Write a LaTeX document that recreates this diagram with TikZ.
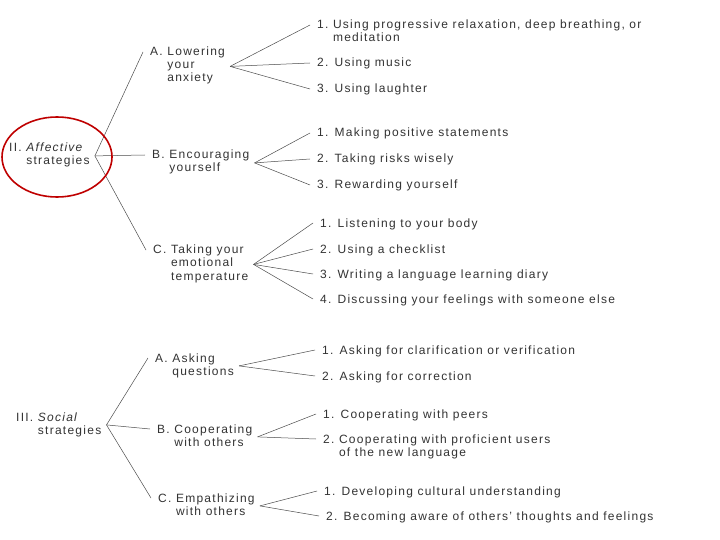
\documentclass[tikz,border=0pt]{standalone}
\usepackage{fontspec}
\setmainfont{Liberation Sans}[LetterSpace=10.5]
\newcommand{\hang}[2]{\begin{tabular}[t]{@{}l@{\ }l@{}}#1&\begin{tabular}[t]{@{}l@{}}#2\end{tabular}\end{tabular}}
\begin{document}
\begin{tikzpicture}[x=1pt, y=-1pt]
    \tikzset{every node/.style={anchor=base west, inner sep=0pt, text=black!80, font=\fontsize{12}{13}\selectfont},
             branch/.style={draw=black!70, line width=0.5pt}}
    \useasboundingbox[fill=white] (0,0) rectangle (720,540);
    % affective strategies
    \node (aff) at (9,152) {\hang{II.}{\textit{Affective}\\strategies}};
    \node (affa) at (150,56) {\hang{A.}{Lowering\\your\\anxiety}};
    \node (affa1) at (317,29) {\hang{1.}{Using progressive relaxation, deep breathing, or\\meditation}};
    \node (affa2) at (317,67) {2. Using music};
    \node (affa3) at (317,93) {3. Using laughter};
    \node (affb) at (152,159) {\hang{B.}{Encouraging\\yourself}};
    \node (affb1) at (317,137) {1. Making positive statements};
    \node (affb2) at (317,163) {2. Taking risks wisely};
    \node (affb3) at (317,189) {3. Rewarding yourself};
    \node (affc) at (153,254) {\hang{C.}{Taking your\\emotional\\temperature}};
    \node (affc1) at (320,227) {1. Listening to your body};
    \node (affc2) at (320,253) {2. Using a checklist};
    \node (affc3) at (320,278) {3. Writing a language learning diary};
    \node (affc4) at (320,303) {4. Discussing your feelings with someone else};
    % social strategies
    \node (soc) at (16,421) {\hang{III.}{\textit{Social}\\strategies}};
    \node (soca) at (155,362) {\hang{A.}{Asking\\questions}};
    \node (soca1) at (322,354) {1. Asking for clarification or verification};
    \node (soca2) at (322,380) {2. Asking for correction};
    \node (socb) at (157,433) {\hang{B.}{Cooperating\\with others}};
    \node (socb1) at (323,418) {1. Cooperating with peers};
    \node (socb2) at (323,443) {\hang{2.}{Cooperating with proficient users\\of the new language}};
    \node (socc) at (158,502) {\hang{C.}{Empathizing\\with others}};
    \node (socc1) at (324,495) {1. Developing cultural understanding};
    \node (socc2) at (326,520) {2. Becoming aware of others' thoughts and feelings};
    % connectors
    \foreach \p/\kids in {aff/{affa,affb,affc}, affa/{affa1,affa2,affa3}, affb/{affb1,affb2,affb3},
                          affc/{affc1,affc2,affc3,affc4}, soc/{soca,socb,socc}, soca/{soca1,soca2},
                          socb/{socb1,socb2}, socc/{socc1,socc2}}
        \foreach \k in \kids
            \draw[branch] ([xshift=5pt]\p.east) -- ([xshift=-7pt,yshift=4pt]\k.base west);
    % red ring round the affective root
    \draw[red!75!black, line width=1.6pt] (57,157) ellipse [x radius=55, y radius=40];
\end{tikzpicture}
\end{document}
